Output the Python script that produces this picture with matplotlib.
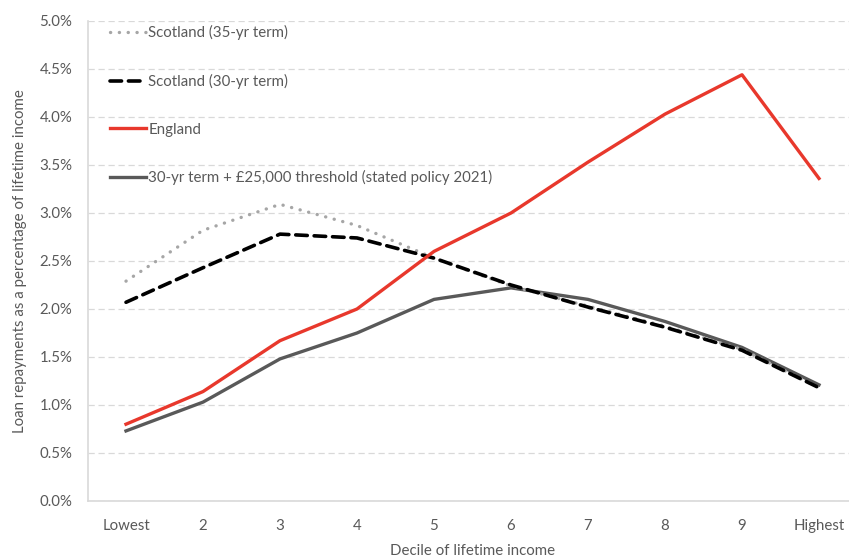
import matplotlib
matplotlib.use('Agg')
import matplotlib.pyplot as plt
from matplotlib.ticker import FuncFormatter

plt.rcParams['font.family'] = ['Lato', 'DejaVu Sans']

deciles = ['Lowest', '2', '3', '4', '5', '6', '7', '8', '9', 'Highest']

scotland_35 = [2.29, 2.82, 3.09, 2.87, 2.53, 2.24, 2.03, 1.82, 1.58, 1.18]
scotland_30 = [2.07, 2.43, 2.78, 2.74, 2.53, 2.25, 2.02, 1.81, 1.57, 1.18]
england = [0.80, 1.14, 1.67, 2.00, 2.60, 3.00, 3.53, 4.03, 4.44, 3.36]
policy_2021 = [0.73, 1.03, 1.48, 1.75, 2.10, 2.22, 2.10, 1.87, 1.60, 1.21]

text_col = '#595959'
grid_col = '#d9d9d9'

fig = plt.figure(figsize=(8.49, 5.59), dpi=100)
ax = fig.add_axes([87.5 / 849, 1 - 501 / 559, 770 / 849, 480 / 559])

x = list(range(len(deciles)))
ax.plot(x, scotland_35, color='#a6a6a6', lw=2.4, linestyle=(0, (0.05, 2.6)),
        dash_capstyle='round', label='Scotland (35-yr term)', zorder=3)
ax.plot(x, scotland_30, color='black', lw=2.6, linestyle=(0, (3.2, 1.9)),
        dash_capstyle='round', label='Scotland (30-yr term)', zorder=4)
ax.plot(x, england, color='#e8382c', lw=2.4, label='England', zorder=5)
ax.plot(x, policy_2021, color='#595959', lw=2.4,
        label='30-yr term + £25,000 threshold (stated policy 2021)', zorder=2)

ax.set_xlim(-0.5, 9.5)
ax.set_ylim(0, 5.0)
ax.set_xticks(x)
ax.set_xticklabels(deciles)
ax.set_yticks([i * 0.5 for i in range(11)])
ax.yaxis.set_major_formatter(FuncFormatter(lambda v, p: '%.1f%%' % v))
ax.tick_params(axis='both', length=0, labelsize=10.8, labelcolor=text_col)
ax.tick_params(axis='x', pad=13)
ax.tick_params(axis='y', pad=11)

ax.grid(axis='y', color=grid_col, linestyle=(0, (5, 3)), lw=0.9)
ax.set_axisbelow(True)
for s in ['top', 'right']:
    ax.spines[s].set_visible(False)
for s in ['left', 'bottom']:
    ax.spines[s].set_color(grid_col)
    ax.spines[s].set_linewidth(1.2)

ax.set_xlabel('Decile of lifetime income', fontsize=10.8, color=text_col, labelpad=8)
ax.set_ylabel('Loan repayments as a percentage of lifetime income', fontsize=10.8,
              color=text_col, labelpad=9)

leg = ax.legend(loc='upper left', bbox_to_anchor=(110 / 849, 1 - 25 / 559),
                bbox_transform=fig.transFigure, frameon=False, fontsize=10.8,
                labelspacing=2.25, handlelength=2.4, handletextpad=0.15,
                borderaxespad=0, borderpad=0)
for t in leg.get_texts():
    t.set_color(text_col)

fig.savefig('out.png', dpi=100)
